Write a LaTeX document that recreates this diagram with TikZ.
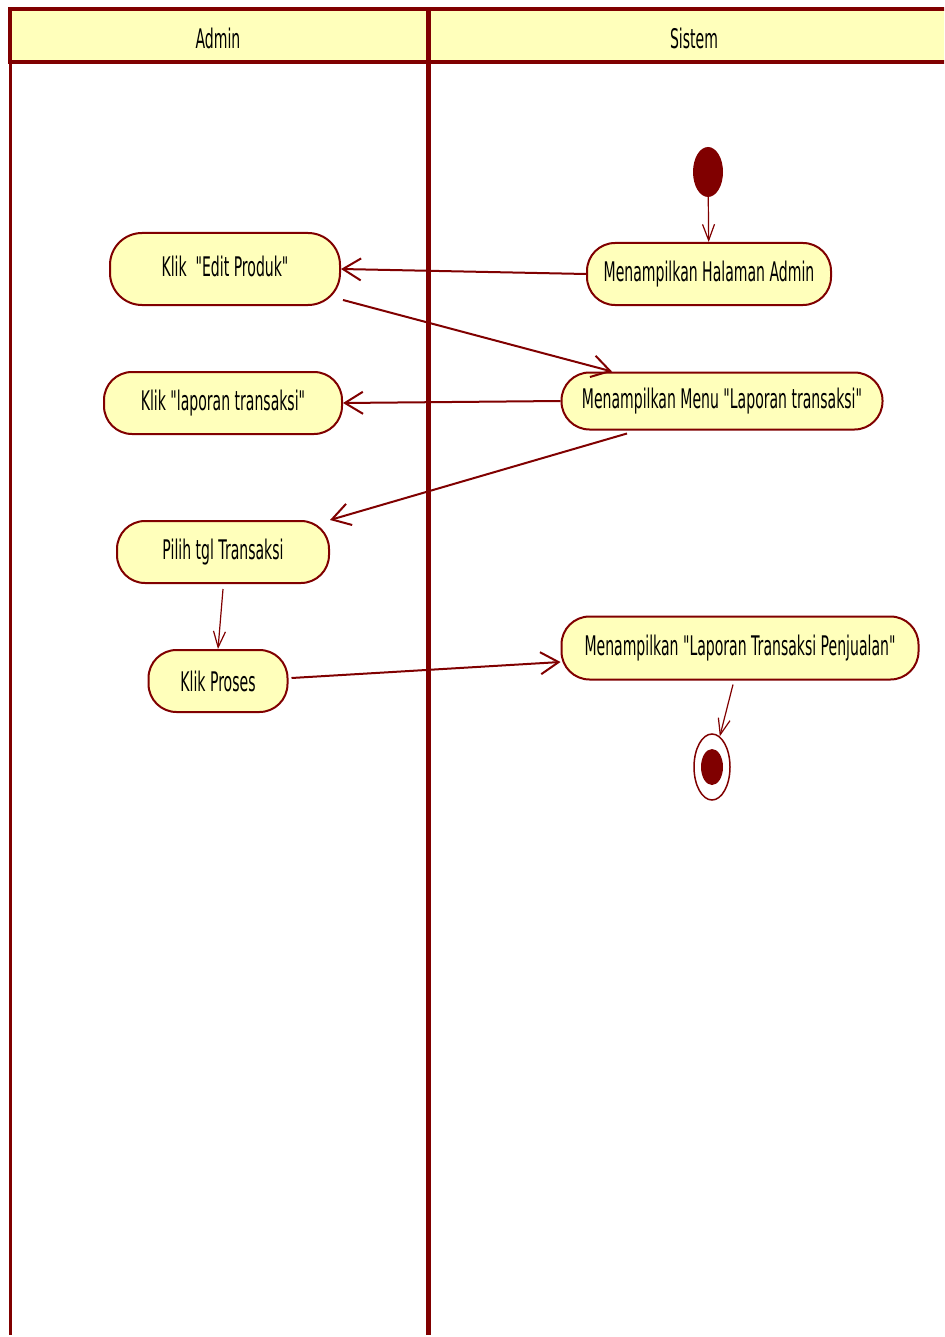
\documentclass[tikz,border=0pt]{standalone}
\usepackage{fontspec}
\setmainfont[FakeStretch=0.52, Ligatures=TeXOff]{DejaVu Sans}
\usetikzlibrary{arrows.meta, positioning}
\usetikzlibrary{shapes.geometric}
\definecolor{umlred}{HTML}{800000}
\definecolor{umlfill}{HTML}{FFFFBB}

\begin{document}
\begin{tikzpicture}[
    x=1pt, y=-1pt,
    every node/.style={
    font=\fontsize{27}{32}\selectfont,
    inner sep=0pt},
    action/.style={
    draw=umlred,
    fill=umlfill,
    line width=2pt,
    rounded corners=28pt,
    minimum height=62pt},
    flow/.style={draw=umlred, line width=2pt, -{Straight Barb[length=18pt, width=22pt]}},
    thinflow/.style={draw=umlred, line width=1.2pt, -{Straight Barb[length=16pt, width=12pt]}},
    lane/.style={draw=umlred, line width=4.5pt}]
    \clip (0,0) rectangle (944,1337);
    % swimlanes
    \draw[lane, fill=umlfill] (10,9) rectangle (428,62);
    \draw[lane, fill=umlfill] (429,9) rectangle (960,62);
    \draw[umlred, line width=3pt] (10,62) -- (10,1335);
    \draw[umlred, line width=5pt] (428,62) -- (428,1335);
    \node (hadmin) at (218,38) {Admin};
    \node (hsistem) at (694,38) {Sistem};
    % Admin
    \node[action, minimum width=230pt, minimum height=72pt, rounded corners=32pt] (prodedit) at (225,269) {\raisebox{5pt}{Klik~~"Edit Produk"}};
    \node[action, minimum width=238pt] (kliklap) at (223,403) {Klik "laporan transaksi"};
    \node[action, minimum width=212pt] (piltgl) at (223,552) {Pilih tgl Transaksi};
    \node[action, minimum width=139pt] (klikproses) at (218,681) {Klik Proses};
    % Sistem
    \node[ellipse, fill=umlred, minimum width=30pt, minimum height=50pt] (start) at (708,172) {};
    \node[action, minimum width=244pt] (halaman) at (709,274) {Menampilkan Halaman Admin};
    \node[action, minimum width=321pt, minimum height=57pt] (menulap) at (722,401) {Menampilkan Menu "Laporan transaksi"};
    \node[action, minimum width=357pt, minimum height=63pt] (penjualan) at (740,648) {Menampilkan "Laporan Transaksi Penjualan"};
    \node[ellipse, draw=umlred, line width=1.5pt, fill=white, minimum width=36pt, minimum height=66pt] (end) at (712,767) {};
    \node[ellipse, fill=umlred, minimum width=22pt, minimum height=36pt] (endcore) at (end.center) {};
    % alur
    \draw[thinflow] (start) -- (halaman);
    \draw[flow] (halaman.west) -- (prodedit.east);
    \draw[flow] ([xshift=2pt, yshift=-31pt]prodedit.east) -- ([xshift=-110pt]menulap.north);
    \draw[flow] (menulap.west) -- (kliklap.east);
    \draw[flow] ([xshift=-95pt, yshift=-3pt]menulap.south) -- (piltgl.north east);
    \draw[thinflow] ([yshift=-5pt]piltgl.south) -- (klikproses.north);
    \draw[flow] ([xshift=3pt, yshift=3pt]klikproses.east) -- ([yshift=-14pt]penjualan.west);
    \draw[thinflow] ([xshift=-7pt, yshift=-4pt]penjualan.south) -- (end);
\end{tikzpicture}
\end{document}
